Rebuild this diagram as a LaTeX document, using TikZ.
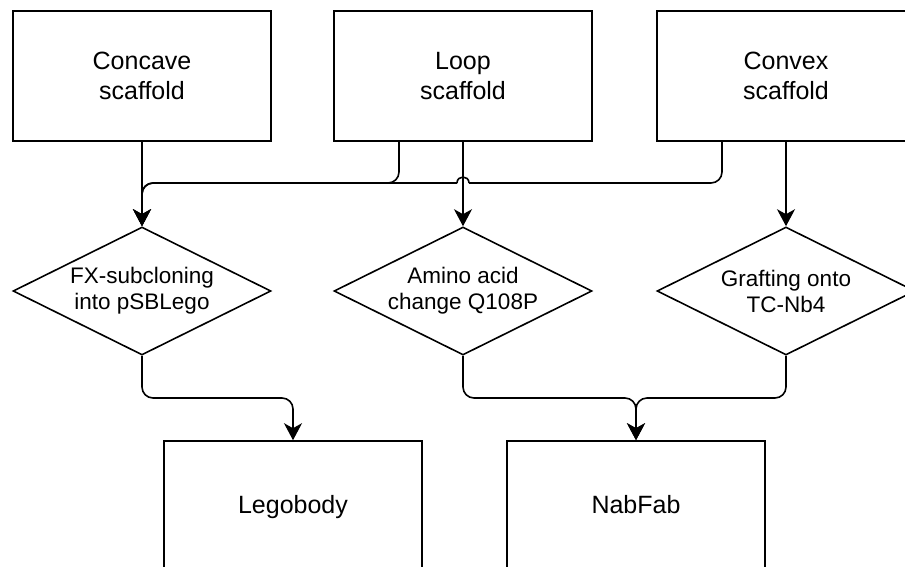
\documentclass[tikz,border=0pt]{standalone}
\usepackage{fontspec}
\setmainfont{Liberation Sans}
\usetikzlibrary{shapes.geometric,arrows.meta}
\begin{document}
\begin{tikzpicture}[x=1pt,y=-1pt,
  box/.style={draw, line width=1.6pt, rectangle, minimum width=258pt, minimum height=130pt, inner sep=0pt, align=center, font=\fontsize{25}{30}\selectfont},
  endbox/.style={box, minimum height=132pt, text height=18pt, text depth=5pt},
  dia/.style={draw, line width=1.6pt, diamond, shape aspect=2, minimum width=258pt, minimum height=128pt, inner sep=0pt, align=center, font=\fontsize{22.5}{26}\selectfont},
  conn/.style={line width=1.6pt, rounded corners=11pt},
  arr/.style={conn, -{Stealth[length=17pt,width=18pt,inset=5pt]}}
]
\path[use as bounding box, clip] (0,0) rectangle (905,566);
\fill[white] (0,0) rectangle (905,566);

\node[box] (b1) at (142,76) {Concave\\scaffold};
\node[box] (b2) at (463,76) {Loop\\scaffold};
\node[box] (b3) at (786,76) {Convex\\scaffold};

\node[dia] (d1) at (142,291) {FX-subcloning\\into pSBLego};
\node[dia] (d2) at (463,291) {Amino acid\\change Q108P};
\node[dia] (d3) at (786,291) {Grafting onto\\TC-Nb4};

\node[endbox] (e1) at (293,507) {Legobody};
\node[endbox] (e2) at (636,507) {NabFab};

\coordinate (h) at (0,183);
\coordinate (g) at (0,398);

% top connectors
\draw[arr] (b1.south) -- (d1.north);
\draw[arr] ([xshift=-64pt]b2.south) -- ([xshift=-64pt]b2.south |- h) -- (d1.north |- h) -- (d1.north);
\draw[arr] (b2.south) -- (d2.north);
\draw[conn] ([xshift=-64pt]b3.south) -- ([xshift=-64pt]b3.south |- h) -- ([xshift=6pt]b2.south |- h);
\draw[line width=1.6pt] ([xshift=6pt]b2.south |- h) .. controls ([xshift=6pt,yshift=8pt]b2.south |- h) and ([xshift=-6pt,yshift=8pt]b2.south |- h) .. ([xshift=-6pt]b2.south |- h);
\draw[arr] ([xshift=-6pt]b2.south |- h) -- (d1.north |- h) -- (d1.north);
\draw[arr] (b3.south) -- (d3.north);

% bottom connectors
\draw[arr] (d1.south) -- (d1.south |- g) -- (e1.north |- g) -- (e1.north);
\draw[arr] (d2.south) -- (d2.south |- g) -- (e2.north |- g) -- (e2.north);
\draw[arr] (d3.south) -- (d3.south |- g) -- (e2.north |- g) -- (e2.north);
\end{tikzpicture}
\end{document}
